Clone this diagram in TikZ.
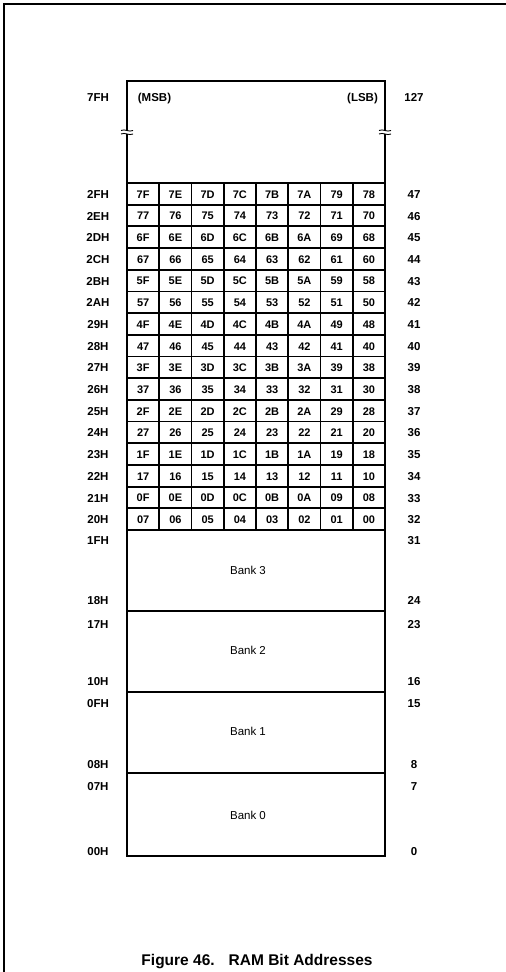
\documentclass[tikz,border=0pt]{standalone}
\usepackage{fontspec}
\setmainfont{Liberation Sans}
\begin{document}
\begin{tikzpicture}[x=1pt,y=-1pt,
  lbl/.style={font=\fontsize{11.5}{13}\selectfont\bfseries, inner sep=0pt, anchor=base},
  cell/.style={font=\fontsize{11}{12}\selectfont\bfseries, inner sep=0pt, anchor=base},
  banktxt/.style={font=\fontsize{11.5}{13}\selectfont, inner sep=0pt, anchor=base},
  captiontxt/.style={font=\fontsize{15.5}{18}\selectfont\bfseries, inner sep=0pt, anchor=base},
  boxline/.style={line width=2pt},
  gridline/.style={line width=1.8pt}]
\useasboundingbox (0,0) rectangle (506,972);
% page frame
\draw[line width=2pt] (4,972) -- (4,4) -- (506,4);
% outer box
\draw[boxline] (127,81) rectangle (385,856);
% grid
\foreach \k in {0,...,16} \draw[gridline] (127,183+\k*21.6875) -- (385,183+\k*21.6875);
\foreach \j in {1,...,7} \draw[gridline] (127+\j*32.25,183) -- (127+\j*32.25,530);
% bank separators
\foreach \yy in {611,692,773} \draw[boxline] (127,\yy) -- (385,\yy);
% break marks
\foreach \xx in {127,385}{
  \fill[white] (\xx-3,130.5) rectangle (\xx+3,134);
  \draw[line width=0.9pt] (\xx-6,130.5) .. controls (\xx-2,128.5) and (\xx+2,132.5) .. (\xx+6,130.5);
  \draw[line width=0.9pt] (\xx-6,134) .. controls (\xx-2,132) and (\xx+2,136) .. (\xx+6,134);
}
% top labels
\node[lbl] (l7F) at (98,101) {7FH};
\node[lbl] (r127) at (414,101) {127};
\node[lbl] (msb) at (154.5,101) {(MSB)};
\node[lbl] (lsb) at (362.5,101) {(LSB)};
% grid cells
\foreach \row [count=\r from 0] in {
 {7F,7E,7D,7C,7B,7A,79,78},{77,76,75,74,73,72,71,70},
 {6F,6E,6D,6C,6B,6A,69,68},{67,66,65,64,63,62,61,60},
 {5F,5E,5D,5C,5B,5A,59,58},{57,56,55,54,53,52,51,50},
 {4F,4E,4D,4C,4B,4A,49,48},{47,46,45,44,43,42,41,40},
 {3F,3E,3D,3C,3B,3A,39,38},{37,36,35,34,33,32,31,30},
 {2F,2E,2D,2C,2B,2A,29,28},{27,26,25,24,23,22,21,20},
 {1F,1E,1D,1C,1B,1A,19,18},{17,16,15,14,13,12,11,10},
 {0F,0E,0D,0C,0B,0A,09,08},{07,06,05,04,03,02,01,00}}{
  \foreach \v [count=\c from 0] in \row
    \node[cell] (c-\r-\c) at (127+32.25*\c+16.125,183+21.6875*\r+15.2) {\v};
}
% row labels
\foreach \a/\b [count=\r from 0] in {2FH/47,2EH/46,2DH/45,2CH/44,2BH/43,2AH/42,29H/41,28H/40,
  27H/39,26H/38,25H/37,24H/36,23H/35,22H/34,21H/33,20H/32}{
  \node[lbl] (la-\r) at (98,183+21.6875*\r+15.4) {\a};
  \node[lbl] (ra-\r) at (414,183+21.6875*\r+15.4) {\b};
}
% bank labels
\node[lbl] (l1F) at (98,544) {1FH};   \node[lbl] (r31) at (414,544) {31};
\node[lbl] (l18) at (98,604.5) {18H}; \node[lbl] (r24) at (414,604.5) {24};
\node[lbl] (l17) at (98,628) {17H};   \node[lbl] (r23) at (414,628) {23};
\node[lbl] (l10) at (98,685.5) {10H}; \node[lbl] (r16) at (414,685.5) {16};
\node[lbl] (l0F) at (98,707) {0FH};   \node[lbl] (r15) at (414,707) {15};
\node[lbl] (l08) at (98,768) {08H};   \node[lbl] (r8) at (414,768) {8};
\node[lbl] (l07) at (98,790) {07H};   \node[lbl] (r7) at (414,790) {7};
\node[lbl] (l00) at (98,855.5) {00H}; \node[lbl] (r0) at (414,855.5) {0};
\node[banktxt] (b3) at (248,574) {Bank 3};
\node[banktxt] (b2) at (248,654) {Bank 2};
\node[banktxt] (b1) at (248,735) {Bank 1};
\node[banktxt] (b0) at (248,819) {Bank 0};
% caption
\node[captiontxt] (caption) at (257,965.5) {Figure 46.\hspace{14pt}RAM Bit Addresses};
\end{tikzpicture}
\end{document}
